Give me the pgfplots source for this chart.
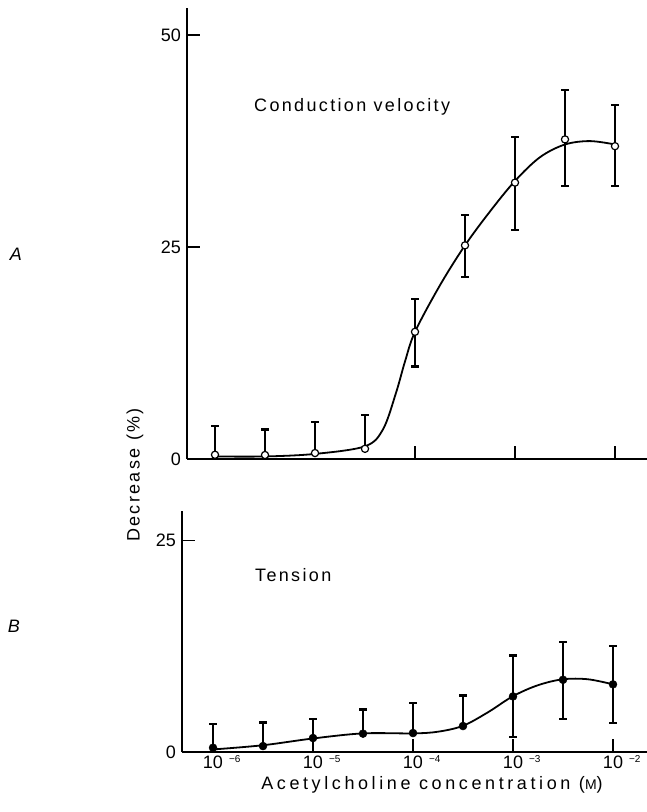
\documentclass[border=0pt]{standalone}
\usepackage{pgfplots}
\pgfplotsset{compat=1.18}
\usepackage{fontspec}
\setmainfont{Liberation Sans}
\newfontfamily\spaced[LetterSpace=13]{Liberation Sans}
\newfontfamily\wide[LetterSpace=20]{Liberation Sans}
\newcommand\tl[1]{\makebox[0pt][r]{1}\makebox[0pt][l]{0\hspace{6pt}\raisebox{6pt}{\fontsize{10}{10}\selectfont −#1}}}
\begin{document}
\fontsize{18}{21}\selectfont
\begin{tikzpicture}
\useasboundingbox (0pt,0pt) rectangle (647pt,812pt);
\pgfplotsset{
  common/.style={
    scale only axis, anchor=south west,
    axis lines=left, axis line style={-, line width=1.8pt, black},
    tick align=inside, major tick length=13pt,
    every tick/.style={line width=1.8pt, black},
    tick label style={font=\fontsize{18}{21}\selectfont},
    /pgf/number format/assume math mode=true,
    clip=false,
  },
  ebars/.style={black, only marks, mark=none, forget plot,
    error bars/.cd, y dir=#1, y explicit, error mark=-,
    error bar style={black, solid, line width=2.2pt},
    error mark options={black, solid, rotate=90, mark size=3.6pt, line width=2.2pt}},
}
% ---------- Panel A ----------
\begin{axis}[common, at={(187pt,353pt)}, width=460pt, height=451pt,
  xmin=-6.28, xmax=-1.68, ymin=0, ymax=53.2,
  xtick={-4,-3,-2}, xticklabels={}, ytick={0,25,50}]
\addplot[ebars=plus] coordinates {
  (-6,0.5) +- (0,3.35) (-5.5,0.47) +- (0,3.0) (-5,0.7) +- (0,3.7) (-4.5,1.2) +- (0,4.0)};
\addplot[ebars=both] coordinates {
  (-4,15.0) += (0,3.85) -= (0,4.1)
  (-3.5,25.2) += (0,3.6) -= (0,3.7)
  (-3,32.6) += (0,5.4) -= (0,5.6)
  (-2.5,37.7) += (0,5.8) -= (0,5.5)
  (-2,36.9) += (0,4.9) -= (0,4.7)};
\addplot[black, line width=1.8pt, smooth, tension=0.55, mark=none] coordinates {
  (-6,0.3) (-5.5,0.3) (-5,0.6) (-4.5,1.5) (-4.32,3.5) (-4.19,7.8) (-4.1,11.5) (-4,15.0)
  (-3.75,20.5) (-3.5,25.2) (-3.25,29.2) (-3,32.8) (-2.75,35.6) (-2.5,37.1) (-2.25,37.5) (-2,37.1)};
\addplot[only marks, mark=*, mark size=3.6pt, draw=black, fill=white, line width=1.2pt] coordinates {
  (-6,0.5) (-5.5,0.47) (-5,0.7) (-4.5,1.2) (-4,15.0) (-3.5,25.2) (-3,32.6) (-2.5,37.7) (-2,36.9)};
\end{axis}
% ---------- Panel B ----------
\begin{axis}[common, at={(182pt,60pt)}, width=465pt, height=241pt,
  xmin=-6.31, xmax=-1.66, ymin=0, ymax=28.5,
  xtick={-6,-5,-4,-3,-2}, xticklabels={\tl{6},\tl{5},\tl{4},\tl{3},\tl{2}},
  xticklabel style={inner ysep=3pt},
  ytick={0,25}]
\addplot[ebars=plus] coordinates {
  (-6,0.5) +- (0,2.8) (-5.5,0.7) +- (0,2.8) (-5,1.65) +- (0,2.25) (-4.5,2.17) +- (0,2.85)
  (-4,2.24) +- (0,3.55) (-3.5,3.07) +- (0,3.6)};
\addplot[ebars=both] coordinates {
  (-3,6.57) += (0,4.85) -= (0,4.8)
  (-2.5,8.54) += (0,4.45) -= (0,4.65)
  (-2,8.0) += (0,4.5) -= (0,4.55)};
\addplot[black, line width=1.8pt, smooth, tension=0.55, mark=none] coordinates {
  (-6,0.3) (-5.5,0.8) (-5,1.6) (-4.5,2.2) (-4,2.2) (-3.75,2.4) (-3.5,3.1) (-3.25,4.7)
  (-3,6.6) (-2.75,7.9) (-2.5,8.6) (-2.25,8.6) (-2,8.0)};
\addplot[only marks, mark=*, mark size=4pt, draw=black, fill=black] coordinates {
  (-6,0.5) (-5.5,0.7) (-5,1.65) (-4.5,2.17) (-4,2.24) (-3.5,3.07) (-3,6.57) (-2.5,8.54) (-2,8.0)};
\end{axis}
% ---------- Text ----------
\node[anchor=west, inner sep=0pt] at (254pt,705pt) {\spaced Conduction velocity};
\node[anchor=west, inner sep=0pt] at (255pt,237pt) {\spaced Tension};
\node[rotate=90, inner sep=0pt] at (135pt,337pt) {\spaced Decrease (\%)};
\node[inner sep=0pt] at (432pt,27pt) {\wide Acetylcholine concentration ({\fontsize{14}{14}\selectfont M})};
\node[inner sep=0pt] at (16pt,558pt) {\itshape A};
\node[inner sep=0pt] at (14pt,186pt) {\itshape B};
\end{tikzpicture}
\end{document}
